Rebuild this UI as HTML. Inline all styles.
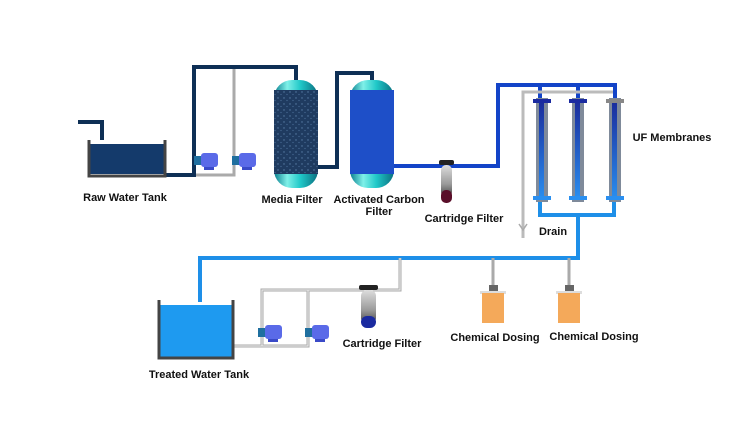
<!DOCTYPE html>
<html><head><meta charset="utf-8"><style>
html,body{margin:0;padding:0;background:#fff;}
svg text{font-family:"Liberation Sans",sans-serif;font-size:11px;font-weight:bold;fill:#111;text-anchor:middle;}
</style></head><body>
<svg width="750" height="422" viewBox="0 0 750 422" xmlns="http://www.w3.org/2000/svg">
<defs>
<linearGradient id="cap" x1="0" x2="1" y1="0" y2="0"><stop offset="0" stop-color="#0a7f8f"/><stop offset="0.3" stop-color="#7ff0e8"/><stop offset="0.6" stop-color="#20c8c8"/><stop offset="1" stop-color="#0a6f80"/></linearGradient>
<linearGradient id="mem" x1="0" x2="0" y1="0" y2="1"><stop offset="0" stop-color="#1a2a9a"/><stop offset="1" stop-color="#2a8ff0"/></linearGradient>
<linearGradient id="cart" x1="0" x2="0" y1="0" y2="1"><stop offset="0" stop-color="#ddd"/><stop offset="0.6" stop-color="#999"/><stop offset="1" stop-color="#444"/></linearGradient>
<pattern id="speck" width="6" height="6" patternUnits="userSpaceOnUse"><rect width="6" height="6" fill="#1f3b60"/><circle cx="2" cy="2" r="0.7" fill="#5a7fa8"/><circle cx="5" cy="4.5" r="0.6" fill="#4a6f98"/></pattern>
</defs>
<!-- raw tank inlet -->
<path d="M78 122 H102 V140" fill="none" stroke="#0e2f55" stroke-width="4"/>
<!-- gray bypass top -->
<path d="M194 175 H234 V68" fill="none" stroke="#aaa" stroke-width="3"/>
<!-- dark main pipe -->
<path d="M166 175 H194 V67 H296 V80" fill="none" stroke="#0e2f55" stroke-width="4"/>
<path d="M318 167 H337 V73 H372 V82" fill="none" stroke="#0e2f55" stroke-width="4"/>
<!-- raw tank -->
<rect x="90" y="144" width="74" height="30" fill="#143a6b"/>
<path d="M89 140 V176 H165 V140" fill="none" stroke="#444" stroke-width="3"/>
<!-- pumps top -->
<g><rect x="194" y="156" width="8" height="9" fill="#1f6f9f"/><rect x="201" y="153" width="17" height="14" rx="3" fill="#5a6ae8"/><rect x="204" y="167" width="10" height="3" fill="#3a4ac8"/></g>
<g><rect x="232" y="156" width="8" height="9" fill="#1f6f9f"/><rect x="239" y="153" width="17" height="14" rx="3" fill="#5a6ae8"/><rect x="242" y="167" width="10" height="3" fill="#3a4ac8"/></g>
<!-- media filter -->
<rect x="274" y="80" width="44" height="108" rx="18" fill="url(#cap)"/>
<rect x="274" y="90" width="44" height="84" fill="url(#speck)"/>
<!-- AC filter -->
<rect x="350" y="80" width="44" height="108" rx="18" fill="url(#cap)"/>
<rect x="350" y="90" width="44" height="84" fill="#1e4fc8"/>
<!-- blue pipe -->
<path d="M394 166 H498 V85 H615 V100 M540 85 V100 M578 85 V100" fill="none" stroke="#1344c8" stroke-width="4"/>
<!-- gray drain -->
<path d="M613 92 H523 V238" fill="none" stroke="#bbb" stroke-width="3"/>
<path d="M519 224 L523 230 L527 224" fill="none" stroke="#aaa" stroke-width="1.5"/>
<!-- cartridge top -->
<rect x="439" y="160" width="15" height="5" rx="2" fill="#222"/>
<rect x="441" y="165" width="11" height="32" rx="5" fill="url(#cart)"/>
<rect x="441" y="190" width="11" height="13" rx="5" fill="#5a0f2a"/>
<!-- light blue outlet -->
<path d="M540 200 V215 H614 V200 M578 215 V258 H200 V302" fill="none" stroke="#1e8fe8" stroke-width="4"/>
<!-- membranes -->
<g>
<rect x="536" y="98" width="12" height="104" fill="#7f8a9a"/><rect x="539" y="100" width="5" height="100" fill="url(#mem)"/>
<rect x="533" y="99" width="18" height="4" fill="#1a2aa0"/><rect x="533" y="196" width="18" height="4" fill="#2a8ff0"/>
<rect x="572" y="98" width="12" height="104" fill="#7f8a9a"/><rect x="575" y="100" width="5" height="100" fill="url(#mem)"/>
<rect x="569" y="99" width="18" height="4" fill="#1a2aa0"/><rect x="569" y="196" width="18" height="4" fill="#2a8ff0"/>
<rect x="609" y="98" width="12" height="104" fill="#7f8a9a"/><rect x="612" y="100" width="5" height="100" fill="url(#mem)"/>
<rect x="606" y="99" width="18" height="4" fill="#888"/><rect x="606" y="196" width="18" height="4" fill="#2a8ff0"/>
</g>
<!-- lower gray pipes -->
<path d="M400 258 V290 H262 V346 H233 M308 290 V346 H262 M493 258 V292 M569 258 V292" fill="none" stroke="#aaa" stroke-width="3"/>
<path d="M400 258 V290 H262 V346 H233 M308 290 V346 H262" fill="none" stroke="#eee" stroke-width="1"/>
<!-- treated tank -->
<rect x="160" y="305" width="72" height="52" fill="#1e9af0"/>
<path d="M159 300 V358 H233 V300" fill="none" stroke="#444" stroke-width="3"/>
<!-- pumps bottom -->
<g><rect x="258" y="328" width="8" height="9" fill="#1f6f9f"/><rect x="265" y="325" width="17" height="14" rx="3" fill="#5a6ae8"/><rect x="268" y="339" width="10" height="3" fill="#3a4ac8"/></g>
<g><rect x="305" y="328" width="8" height="9" fill="#1f6f9f"/><rect x="312" y="325" width="17" height="14" rx="3" fill="#5a6ae8"/><rect x="315" y="339" width="10" height="3" fill="#3a4ac8"/></g>
<!-- cartridge bottom -->
<rect x="359" y="285" width="19" height="5" rx="2" fill="#222"/>
<rect x="361" y="290" width="15" height="34" rx="6" fill="url(#cart)"/>
<rect x="361" y="316" width="15" height="12" rx="6" fill="#1a2aa0"/>
<!-- dosing -->
<rect x="489" y="285" width="9" height="7" fill="#666"/><rect x="480" y="291" width="26" height="3" fill="#ddd"/>
<rect x="482" y="293" width="22" height="30" fill="#f4a95a"/>
<rect x="565" y="285" width="9" height="7" fill="#666"/><rect x="556" y="291" width="26" height="3" fill="#ddd"/>
<rect x="558" y="293" width="22" height="30" fill="#f4a95a"/>
<!-- labels -->
<text x="125" y="201">Raw Water Tank</text>
<text x="292" y="203">Media Filter</text>
<text x="379" y="203">Activated Carbon</text>
<text x="379" y="215">Filter</text>
<text x="464" y="222">Cartridge Filter</text>
<text x="553" y="235">Drain</text>
<text x="672" y="141">UF Membranes</text>
<text x="199" y="378">Treated Water Tank</text>
<text x="382" y="347">Cartridge Filter</text>
<text x="495" y="341">Chemical Dosing</text>
<text x="594" y="340">Chemical Dosing</text>
</svg>
</body></html>
